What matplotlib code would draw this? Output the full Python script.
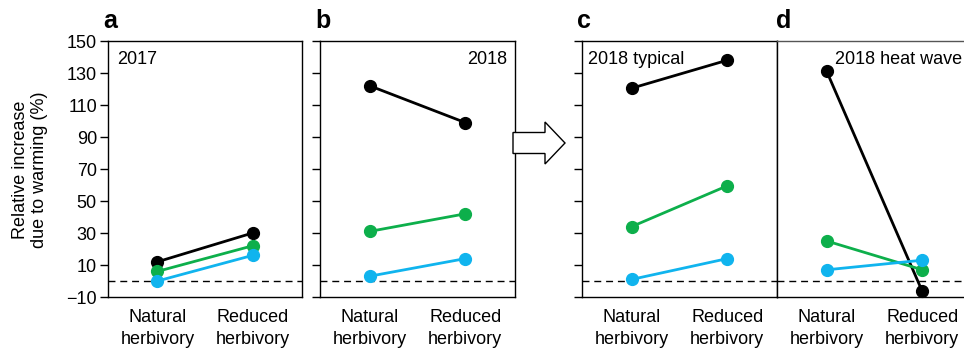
import matplotlib
matplotlib.use("Agg")
import matplotlib.pyplot as plt
from matplotlib.patches import FancyArrow

plt.rcParams['font.family'] = ['Liberation Sans', 'DejaVu Sans']
plt.rcParams['font.size'] = 13

# values (relative increase due to warming, %)
categories = ['Natural\nherbivory', 'Reduced\nherbivory']
panel_titles = ['2017', '2018', '2018 typical', '2018 heat wave']
panel_letters = ['a', 'b', 'c', 'd']

black_vals = [[12, 30], [122, 99], [120.5, 138], [131, -6.5]]
green_vals = [[6, 22], [31, 42], [34, 59.5], [25, 7]]
blue_vals = [[0, 16], [3, 14], [1, 14], [7, 13]]

series_colors = ['black', '#0DAF4B', '#10B4EE']
yticks = [-10, 10, 30, 50, 70, 90, 110, 130, 150]

W, H = 964, 352
fig = plt.figure(figsize=(W / 100, H / 100), dpi=100)

# axes boxes in pixels: left, right
boxes = [(108, 302), (320, 515), (582, 777), (777, 972)]
top_px, bot_px = 41, 297

axes = []
for i, (l, r) in enumerate(boxes):
    ax = fig.add_axes([l / W, 1 - bot_px / H, (r - l) / W, (bot_px - top_px) / H])
    axes.append(ax)
    ax.set_xlim(-0.52, 1.52)
    ax.set_ylim(-10, 150)
    ax.set_yticks(yticks)
    ax.set_xticks([0, 1])
    ax.set_xticklabels(categories, linespacing=1.4)
    ax.tick_params(axis='x', length=0, pad=8.5, labelsize=13)
    ax.tick_params(axis='y', direction='out', length=5.5, width=1, labelsize=13, pad=2.5)
    for s in ax.spines.values():
        s.set_linewidth(1.0)
    if i != 0:
        ax.set_yticklabels([])
    if i == 3:
        ax.tick_params(axis='y', length=0)
        ax.spines['top'].set_color('#555555')

    ax.axhline(0, color='black', lw=1.0, ls=(0, (5, 3.5)), zorder=1)

    for vals, col in zip([black_vals, green_vals, blue_vals], series_colors):
        ax.plot([0, 1], vals[i], color=col, lw=2, marker='o', ms=8.5, zorder=3, clip_on=False)

    fig.text(boxes[i][0] / W - (5 if i != 3 else 1) / W, 1 - 28 / H, panel_letters[i],
             fontsize=18, fontweight='bold', ha='left', va='baseline')

axes[0].text(0.045, 0.96, panel_titles[0], transform=axes[0].transAxes, ha='left', va='top', fontsize=13)
axes[1].text(0.96, 0.96, panel_titles[1], transform=axes[1].transAxes, ha='right', va='top', fontsize=13)
axes[2].text(0.03, 0.96, panel_titles[2], transform=axes[2].transAxes, ha='left', va='top', fontsize=13)
axes[3].text(0.297, 0.96, panel_titles[3], transform=axes[3].transAxes, ha='left', va='top', fontsize=13)

fig.text(30 / W, 1 - 170 / H, 'Relative increase\ndue to warming (%)', rotation=90,
         ha='center', va='center', fontsize=13, linespacing=1.15)

# arrow between b and c
arrow = FancyArrow(513 / W, 1 - 143 / H, 52 / W, 0, width=21 / H, head_width=42 / H,
                   head_length=20 / W, length_includes_head=True,
                   facecolor='white', edgecolor='black', lw=1.0, transform=fig.transFigure)
fig.add_artist(arrow)

fig.savefig('out.png', dpi=100)
